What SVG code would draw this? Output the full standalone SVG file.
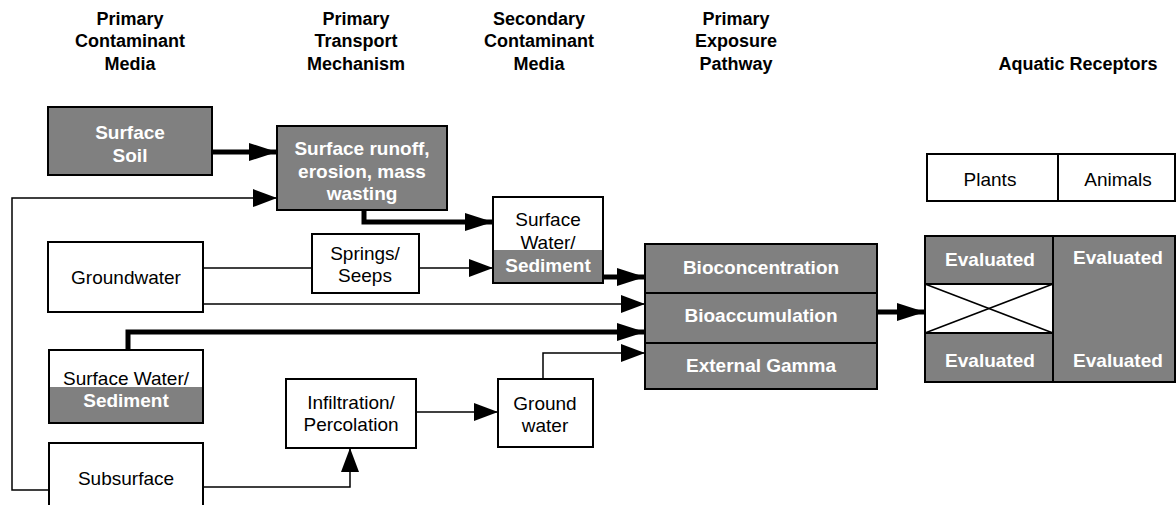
<svg xmlns="http://www.w3.org/2000/svg" width="1176" height="505" viewBox="0 0 1176 505">
  <style>
    .hdr { font-family: "Liberation Sans", Arial, sans-serif; font-weight: bold; font-size: 18px; fill: #000; text-anchor: middle; }
    .t { font-family: "Liberation Sans", Arial, sans-serif; font-size: 19px; fill: #000; text-anchor: middle; }
    .tw { font-family: "Liberation Sans", Arial, sans-serif; font-weight: bold; font-size: 19px; fill: #fff; text-anchor: middle; }
    .box { fill: #fff; stroke: #000; stroke-width: 2; }
    .gbox { fill: #808080; stroke: #000; stroke-width: 2; }
    .gfill { fill: #808080; stroke: none; }
    .thin { fill: none; stroke: #000; stroke-width: 1.5; }
    .thick { fill: none; stroke: #000; stroke-width: 5; }
    .edge { fill: none; stroke: #000; stroke-width: 2; }
  </style>
  <defs>
    <marker id="arrThin" markerUnits="userSpaceOnUse" markerWidth="26" markerHeight="20" refX="24" refY="9" orient="auto">
      <polygon points="0,0 24,9 0,18" fill="#000"/>
    </marker>
    <marker id="arrThick" markerUnits="userSpaceOnUse" markerWidth="30" markerHeight="20" refX="28" refY="9" orient="auto">
      <polygon points="0,0 28,9 0,18" fill="#000"/>
    </marker>
  </defs>
  <rect width="1176" height="505" fill="#fff"/>

  <!-- Column headings -->
  <g id="headings">
    <text class="hdr" x="130" y="25">Primary</text>
    <text class="hdr" x="130" y="47">Contaminant</text>
    <text class="hdr" x="130" y="70">Media</text>
    <text class="hdr" x="356" y="25">Primary</text>
    <text class="hdr" x="356" y="47">Transport</text>
    <text class="hdr" x="356" y="70">Mechanism</text>
    <text class="hdr" x="539" y="25">Secondary</text>
    <text class="hdr" x="539" y="47">Contaminant</text>
    <text class="hdr" x="539" y="70">Media</text>
    <text class="hdr" x="736" y="25">Primary</text>
    <text class="hdr" x="736" y="47">Exposure</text>
    <text class="hdr" x="736" y="70">Pathway</text>
    <text class="hdr" x="1078" y="70">Aquatic Receptors</text>
  </g>

  <!-- Connectors -->
  <g id="connectors">
    <path class="thick" d="M212,152 H277" marker-end="url(#arrThick)"/>
    <path class="thin" d="M49,490 H12 V198 H277" marker-end="url(#arrThin)"/>
    <path class="thick" d="M364,210 V222 H493" marker-end="url(#arrThick)"/>
    <path class="thin" d="M203,268 H312"/>
    <path class="thin" d="M419,268 H493" marker-end="url(#arrThin)"/>
    <path class="thin" d="M203,304 H645" marker-end="url(#arrThin)"/>
    <path class="thick" d="M603,277 H645" marker-end="url(#arrThick)"/>
    <path class="thick" d="M128,350 V332 H645" marker-end="url(#arrThick)"/>
    <path class="thin" d="M203,487 H350 V448" marker-end="url(#arrThin)"/>
    <path class="thin" d="M416,412 H498" marker-end="url(#arrThin)"/>
    <path class="thin" d="M543,379 V353 H645" marker-end="url(#arrThin)"/>
    <path class="thick" d="M877,312 H925" marker-end="url(#arrThick)"/>
  </g>

  <!-- Primary contaminant media -->
  <g id="surface-soil">
    <rect class="gbox" x="48" y="107" width="164" height="68"/>
    <text class="tw" x="130" y="139">Surface</text>
    <text class="tw" x="130" y="162">Soil</text>
  </g>
  <g id="groundwater">
    <rect class="box" x="48" y="242" width="155" height="70"/>
    <text class="t" x="126" y="284">Groundwater</text>
  </g>
  <g id="surface-water-primary">
    <rect class="gfill" x="49" y="387" width="154" height="36"/>
    <rect x="49" y="350" width="154" height="73" fill="none" stroke="#000" stroke-width="2"/>
    <text class="t" x="126" y="385">Surface Water/</text>
    <text class="tw" x="126" y="407">Sediment</text>
  </g>
  <g id="subsurface">
    <rect class="box" x="49" y="443" width="154" height="80"/>
    <text class="t" x="126" y="485">Subsurface</text>
  </g>

  <!-- Transport mechanisms -->
  <g id="runoff">
    <rect class="gbox" x="277" y="126" width="170" height="84"/>
    <text class="tw" x="362" y="155">Surface runoff,</text>
    <text class="tw" x="362" y="178">erosion, mass</text>
    <text class="tw" x="362" y="200">wasting</text>
  </g>
  <g id="springs">
    <rect class="box" x="312" y="234" width="107" height="59"/>
    <text class="t" x="365" y="260">Springs/</text>
    <text class="t" x="365" y="282">Seeps</text>
  </g>
  <g id="infiltration">
    <rect class="box" x="286" y="379" width="130" height="69"/>
    <text class="t" x="351" y="409">Infiltration/</text>
    <text class="t" x="351" y="431">Percolation</text>
  </g>

  <!-- Secondary contaminant media -->
  <g id="surface-water-secondary">
    <rect class="gfill" x="493" y="250" width="110" height="33"/>
    <rect x="493" y="197" width="110" height="86" fill="none" stroke="#000" stroke-width="2"/>
    <text class="t" x="548" y="226">Surface</text>
    <text class="t" x="548" y="249">Water/</text>
    <text class="tw" x="548" y="272">Sediment</text>
  </g>
  <g id="ground-water-secondary">
    <rect class="box" x="498" y="379" width="95" height="68"/>
    <text class="t" x="545" y="410">Ground</text>
    <text class="t" x="545" y="432">water</text>
  </g>

  <!-- Exposure pathways -->
  <g id="pathways">
    <rect class="gbox" x="645" y="244" width="232" height="145"/>
    <line class="edge" x1="645" y1="293" x2="877" y2="293"/>
    <line class="edge" x1="645" y1="343" x2="877" y2="343"/>
    <text class="tw" x="761" y="274">Bioconcentration</text>
    <text class="tw" x="761" y="322">Bioaccumulation</text>
    <text class="tw" x="761" y="372">External Gamma</text>
  </g>

  <!-- Receptors -->
  <g id="receptor-header">
    <rect class="box" x="927" y="154" width="131" height="47"/>
    <rect class="box" x="1058" y="154" width="117" height="47"/>
    <text class="t" x="990" y="186">Plants</text>
    <text class="t" x="1118" y="186">Animals</text>
  </g>
  <g id="receptor-table">
    <rect class="gfill" x="925" y="236" width="250" height="146"/>
    <rect x="925" y="284" width="128" height="49" fill="#fff"/>
    <line class="thin" x1="925" y1="284" x2="1053" y2="333"/>
    <line class="thin" x1="925" y1="333" x2="1053" y2="284"/>
    <line class="edge" x1="925" y1="284" x2="1053" y2="284"/>
    <line class="edge" x1="925" y1="333" x2="1053" y2="333"/>
    <line class="edge" x1="1053" y1="236" x2="1053" y2="382"/>
    <rect x="925" y="236" width="250" height="146" fill="none" stroke="#000" stroke-width="2"/>
    <text class="tw" x="990" y="266">Evaluated</text>
    <text class="tw" x="1118" y="264">Evaluated</text>
    <text class="tw" x="990" y="367">Evaluated</text>
    <text class="tw" x="1118" y="367">Evaluated</text>
  </g>
</svg>
